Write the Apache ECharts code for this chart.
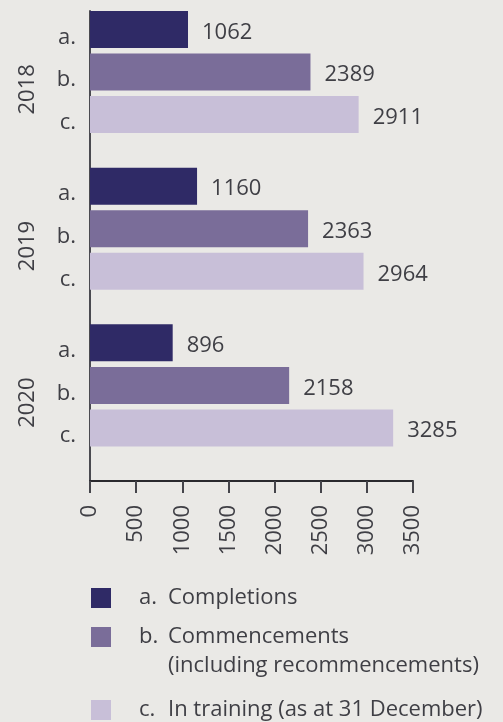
<!DOCTYPE html>
<html>
<head>
<meta charset="utf-8">
<script src="https://cdn.jsdelivr.net/npm/echarts@6/dist/echarts.min.js"></script>
<style>
  html, body { margin: 0; padding: 0; background: #eae9e6; }
  #chart { width: 503px; height: 722px; }
</style>
</head>
<body>
<div id="chart"></div>
<script>
// chart data
var years = ['2018', '2019', '2020'];
var tags = ['a.', 'b.', 'c.'];
var seriesNames = ['Completions', 'Commencements', 'In training (as at 31 December)'];
var completions = [1062, 1160, 896];
var commencements = [2389, 2363, 2158];
var inTraining = [2911, 2964, 3285];
var colors = ['#2f2a66', '#7a6d99', '#c8bfd8'];

var textColor = '#3f3f45';
var fontFamily = '"Open Sans", sans-serif';
var fontSize = 22;

var values = [completions, commencements, inTraining];
var series = [];
values.forEach(function (vals, i) {
    // zero-length bar at the axis, only carries the "a." / "b." / "c." tag
    series.push({
        name: tags[i] + '-tag',
        type: 'bar',
        stack: 's' + i,
        barWidth: 37,
        barGap: '15%',
        data: vals.map(function () { return 0; }),
        itemStyle: { color: 'rgba(0,0,0,0)' },
        label: {
            show: true,
            position: 'left',
            distance: 14,
            offset: [0, 8],
            formatter: tags[i],
            color: textColor,
            fontFamily: fontFamily,
            fontSize: fontSize
        },
        silent: true
    });
    series.push({
        name: seriesNames[i],
        type: 'bar',
        stack: 's' + i,
        barWidth: 37,
        barGap: '15%',
        data: vals,
        itemStyle: { color: colors[i] },
        label: {
            show: true,
            position: 'right',
            distance: 14,
            offset: [0, 3],
            color: textColor,
            fontFamily: fontFamily,
            fontSize: fontSize
        }
    });
});
// empty spacer column so each group sits at the top of its band
series.push({
    name: 'spacer',
    type: 'bar',
    stack: 'pad',
    barWidth: 29,
    barGap: '15%',
    data: years.map(function () { return null; })
});

function legendFor(i, top) {
    return {
        show: true,
        left: 91,
        top: top,
        padding: 0,
        orient: 'vertical',
        itemWidth: 20,
        itemHeight: 20,
        icon: 'rect',
        selectedMode: false,
        data: [seriesNames[i]],
        formatter: function (name) {
            return '{k|' + tags[i] + '}{t|' + name + '}';
        },
        textStyle: {
            color: textColor,
            fontFamily: fontFamily,
            fontSize: fontSize,
            padding: [0, 0, 0, 23],
            rich: {
                k: { width: 29, color: textColor, fontFamily: fontFamily, fontSize: fontSize },
                t: { color: textColor, fontFamily: fontFamily, fontSize: fontSize }
            }
        }
    };
}

var option = {
    backgroundColor: '#eae9e6',
    animation: false,
    color: colors,
    grid: { left: 90, right: 90, top: 11, bottom: 241, containLabel: false },
    xAxis: {
        type: 'value',
        min: 0,
        max: 3500,
        interval: 500,
        splitLine: { show: false },
        axisLine: { show: true, lineStyle: { color: '#2a2a2e', width: 2 } },
        axisTick: { show: true, length: 12, lineStyle: { color: '#45454b', width: 2 } },
        axisLabel: {
            rotate: 90,
            margin: 24,
            formatter: function (v) { return String(v); },
            color: textColor,
            fontFamily: fontFamily,
            fontSize: fontSize
        }
    },
    yAxis: {
        type: 'category',
        inverse: true,
        data: years,
        axisLine: { show: true, lineStyle: { color: '#4a4a50', width: 2 } },
        axisTick: { show: false },
        axisLabel: {
            rotate: 90,
            margin: 51,
            color: textColor,
            fontFamily: fontFamily,
            fontSize: fontSize
        }
    },
    legend: [legendFor(0, 587), legendFor(1, 626), legendFor(2, 699)],
    graphic: [{
        type: 'text',
        left: 168,
        top: 655,
        style: {
            text: '(including recommencements)',
            fill: textColor,
            font: fontSize + 'px ' + fontFamily
        }
    }],
    series: series
};

var chart = echarts.init(document.getElementById('chart'));
chart.setOption(option);
</script>
</body>
</html>
